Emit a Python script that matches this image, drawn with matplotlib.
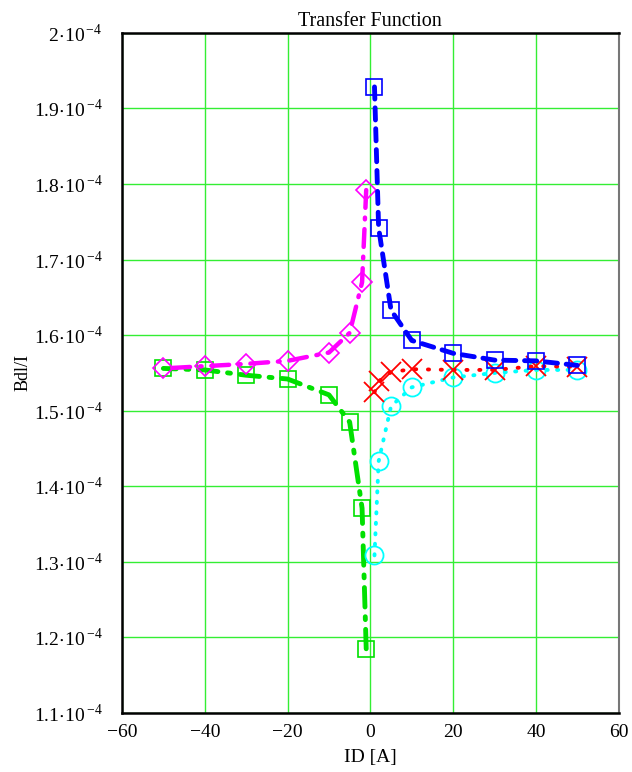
import matplotlib
matplotlib.use("Agg")
import matplotlib.pyplot as plt
import numpy as np

plt.rcParams['font.family'] = ['Liberation Serif', 'DejaVu Serif']
plt.rcParams['mathtext.fontset'] = 'stix'

# current values (A)
id_pos = [1, 2, 5, 10, 20, 30, 40, 50]
id_neg = [-1, -2, -5, -10, -20, -30, -40, -50]

# Bdl/I in units of 1e-4
blue_sq = [1.9285, 1.742, 1.633, 1.593, 1.576, 1.567, 1.566, 1.560]
red_x = [1.5245, 1.539, 1.551, 1.555, 1.554, 1.554, 1.559, 1.558]
cyan_o = [1.3086, 1.433, 1.506, 1.531, 1.544, 1.550, 1.554, 1.554]
green_sq = [1.185, 1.371, 1.485, 1.521, 1.542, 1.547, 1.554, 1.556]
magenta_d = [1.792, 1.670, 1.603, 1.577, 1.566, 1.562, 1.559, 1.556]

xticks = [-60, -40, -20, 0, 20, 40, 60]
yticks = [1.1, 1.2, 1.3, 1.4, 1.5, 1.6, 1.7, 1.8, 1.9, 2.0]

fig = plt.figure(figsize=(6.32, 7.72), dpi=100)
ax = fig.add_axes([0.193, 0.0764, 0.786, 0.881])

scale = 1e-4
ax.plot(id_neg, np.array(green_sq) * scale, color='#00e000', lw=3.5,
        dashes=(4, 2, 0.6, 2), dash_capstyle='round',
        marker='s', ms=12, mfc='none', mec='#00e000', mew=1.2)
ax.plot(id_pos, np.array(cyan_o) * scale, color='#00ffff', lw=2.8,
        dashes=(0.3, 2.4), dash_capstyle='round',
        marker='o', ms=13, mfc='none', mec='#00ffff', mew=1.3)
ax.plot(id_pos, np.array(red_x) * scale, color='#ff0000', lw=2.8,
        dashes=(0.3, 3.0), dash_capstyle='round',
        marker='x', ms=15, mec='#ff0000', mew=1.3)
ax.plot(id_neg, np.array(magenta_d) * scale, color='#ff00ff', lw=3.2,
        dashes=(4, 2.2, 0.4, 2.2), dash_capstyle='round',
        marker='D', ms=10, mfc='none', mec='#ff00ff', mew=1.2)
ax.plot(id_pos, np.array(blue_sq) * scale, color='#0000ff', lw=3.5,
        dashes=(2.5, 1.8), dash_capstyle='round',
        marker='s', ms=12, mfc='none', mec='#0000ff', mew=1.2)

ax.set_xlim(-60, 60)
ax.set_ylim(1.1e-4, 2.0e-4)
ax.set_xticks(xticks)
ax.set_xticklabels([f"\u2212{abs(t)}" if t < 0 else f"{t}" for t in xticks])
ax.set_yticks([v * scale for v in yticks])
ytl = []
for v in yticks:
    s = f"{v:.1f}" if abs(v - round(v)) > 1e-9 else f"{int(round(v))}"
    ytl.append(r"$\mathregular{" + s + r"}\!\cdot\!\mathregular{10}^{\,\mathregular{-4}}$")
ax.set_yticklabels(ytl)
ax.tick_params(axis='y', length=0, labelsize=14, pad=14)
ax.tick_params(axis='x', length=0, labelsize=14, pad=8)

ax.grid(True, color='#33ee33', lw=1.0)
ax.set_axisbelow(True)
for side in ['left', 'bottom', 'top']:
    ax.spines[side].set_linewidth(1.8)
    ax.spines[side].set_color('black')
ax.spines['right'].set_linewidth(1.5)
ax.spines['right'].set_color('#777777')

ax.set_title("Transfer Function", fontsize=14.5, pad=5)
ax.set_xlabel("ID [A]", fontsize=14, labelpad=6)
ax.set_ylabel("Bdl/I", fontsize=13, labelpad=2)

fig.savefig("out.png", dpi=100)
